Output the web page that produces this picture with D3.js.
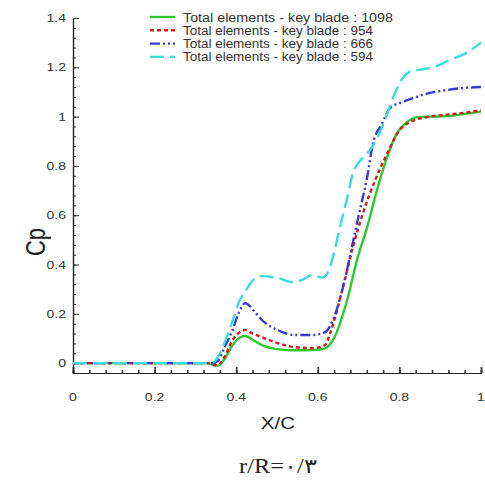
<!DOCTYPE html>
<html>
<head>
<meta charset="utf-8">
<script src="https://cdn.jsdelivr.net/npm/d3@7"></script>
<style>
  html, body { margin: 0; padding: 0; background: #fff; }
  svg { display: block; }
  text { font-family: Arial, "Liberation Sans", sans-serif; }
</style>
</head>
<body>
<svg id="chart" width="485" height="484"></svg>
<script>
// Pressure coefficient along the chord for four mesh densities
const xTicks = [0, 0.2, 0.4, 0.6, 0.8, 1];
const xTickLabels = ["0", "0.2", "0.4", "0.6", "0.8", "1"];
const yTicks = [0, 0.2, 0.4, 0.6, 0.8, 1, 1.2, 1.4];
const yTickLabels = ["0", "0.2", "0.4", "0.6", "0.8", "1", "1.2", "1.4"];

const seriesNames = [
  "Total elements - key blade : 1098",
  "Total elements - key blade : 954",
  "Total elements - key blade : 666",
  "Total elements - key blade : 594"
];

const x1098 = [0, 0.1, 0.2, 0.3, 0.33, 0.345, 0.355, 0.373, 0.39, 0.41, 0.422, 0.44, 0.463, 0.50, 0.544, 0.586, 0.618, 0.637, 0.672, 0.696, 0.721, 0.745, 0.77, 0.794, 0.819, 0.843, 0.875, 0.917, 0.956, 1];
const cp1098 = [0, 0, 0, 0, 0, -0.008, -0.01, 0.02, 0.07, 0.105, 0.11, 0.095, 0.073, 0.057, 0.052, 0.053, 0.06, 0.093, 0.256, 0.418, 0.552, 0.702, 0.836, 0.933, 0.978, 0.998, 1.0, 1.002, 1.01, 1.02];

const x954 = [0, 0.1, 0.2, 0.3, 0.33, 0.345, 0.355, 0.373, 0.39, 0.404, 0.422, 0.44, 0.463, 0.502, 0.544, 0.586, 0.618, 0.63, 0.662, 0.686, 0.711, 0.74, 0.77, 0.801, 0.826, 0.875, 0.917, 0.956, 1];
const cp954 = [0, 0, 0, 0, 0, -0.008, -0.008, 0.03, 0.09, 0.12, 0.134, 0.12, 0.105, 0.081, 0.065, 0.061, 0.073, 0.12, 0.31, 0.47, 0.61, 0.74, 0.85, 0.946, 0.978, 1.0, 1.008, 1.015, 1.025];

const x666 = [0, 0.1, 0.2, 0.3, 0.33, 0.345, 0.355, 0.373, 0.39, 0.409, 0.422, 0.446, 0.463, 0.502, 0.544, 0.586, 0.618, 0.637, 0.662, 0.686, 0.703, 0.721, 0.735, 0.757, 0.777, 0.801, 0.833, 0.875, 0.917, 0.956, 1];
const cp666 = [0, 0, 0, 0, 0, 0, 0.01, 0.07, 0.13, 0.215, 0.243, 0.207, 0.175, 0.134, 0.114, 0.114, 0.126, 0.174, 0.31, 0.49, 0.62, 0.755, 0.89, 0.97, 1.035, 1.055, 1.075, 1.096, 1.108, 1.116, 1.12];

const x594 = [0, 0.1, 0.2, 0.3, 0.33, 0.345, 0.355, 0.373, 0.39, 0.409, 0.422, 0.441, 0.463, 0.502, 0.537, 0.561, 0.586, 0.61, 0.622, 0.637, 0.654, 0.672, 0.686, 0.703, 0.721, 0.745, 0.77, 0.79, 0.81, 0.83, 0.85, 0.882, 0.924, 0.966, 1];
const cp594 = [0, 0, 0, 0, 0, 0.005, 0.025, 0.09, 0.166, 0.256, 0.29, 0.337, 0.353, 0.345, 0.329, 0.337, 0.357, 0.347, 0.36, 0.43, 0.55, 0.67, 0.77, 0.82, 0.85, 0.91, 1.01, 1.10, 1.16, 1.185, 1.19, 1.2, 1.23, 1.26, 1.30];

const seriesX = [x1098, x954, x666, x594];
const seriesY = [cp1098, cp954, cp666, cp594];
const colors = ["#2ec82e", "#c8201e", "#3a3ad0", "#3cdcdc"];
const dashes = [null, "4,3", "10,3,2,3,2,3", "14,6"];

const svg = d3.select("#chart");
const plotLeft = 73, plotRight = 481, plotTop = 18, plotBottom = 373;
const stretch = 1.22; // labels are drawn a little wide

const x = d3.scaleLinear().domain([0, 1]).range([plotLeft, plotRight]);
const y = d3.scaleLinear().domain([-0.04, 1.4]).range([plotBottom, plotTop]);

// Axes: major ticks labelled, minor ticks every 0.04, all pointing inward
const xMinor = d3.range(0, 1.0001, 0.04).map(v => +v.toFixed(2));
const yMinor = d3.range(-0.04, 1.4001, 0.04).map(v => +v.toFixed(2));

const gx = svg.append("g").attr("transform", `translate(0,${plotBottom})`);
gx.call(d3.axisTop(x).tickValues(xMinor).tickSize(3).tickFormat(""));
gx.append("g").call(d3.axisTop(x).tickValues(xTicks).tickSize(6).tickFormat(""));
gx.selectAll("path.domain").attr("stroke", "#222").attr("stroke-width", 1.2);
gx.selectAll("line").attr("stroke", "#333").attr("stroke-width", 1);
gx.selectAll("g > g > line").attr("stroke-width", 1.6);
gx.selectAll(".xlab").data(xTicks).enter().append("text")
  .attr("transform", d => `translate(${x(d)},28) scale(${stretch},1)`)
  .attr("text-anchor", "middle")
  .attr("font-size", 11.5).attr("fill", "#333")
  .text((d, i) => xTickLabels[i]);

const gy = svg.append("g").attr("transform", `translate(${plotLeft},0)`);
gy.call(d3.axisRight(y).tickValues(yMinor).tickSize(3).tickFormat(""));
gy.append("g").call(d3.axisRight(y).tickValues(yTicks).tickSize(6).tickFormat(""));
gy.selectAll("path.domain").attr("stroke", "#222").attr("stroke-width", 1.2);
gy.selectAll("line").attr("stroke", "#333").attr("stroke-width", 1);
gy.selectAll(".ylab").data(yTicks).enter().append("text")
  .attr("transform", d => `translate(-7,${y(d) + 4}) scale(${stretch},1)`)
  .attr("text-anchor", "end")
  .attr("font-size", 11.5).attr("fill", "#333")
  .text((d, i) => yTickLabels[i]);

// Curves
const line = d3.line()
  .x(d => x(d[0])).y(d => y(d[1]))
  .curve(d3.curveMonotoneX);

seriesX.forEach((xs, i) => {
  const pts = xs.map((v, j) => [v, seriesY[i][j]]);
  svg.append("path")
    .datum(pts)
    .attr("d", line)
    .attr("fill", "none")
    .attr("stroke", colors[i])
    .attr("stroke-width", 2.4)
    .attr("stroke-dasharray", dashes[i]);
});

// Legend
const legend = svg.append("g");
const legendWidths = [210, 190, 190, 190];
seriesNames.forEach((name, i) => {
  const ly = 17 + i * 13.3;
  legend.append("line")
    .attr("x1", 150).attr("x2", 175).attr("y1", ly).attr("y2", ly)
    .attr("stroke", colors[i]).attr("stroke-width", 2.4)
    .attr("stroke-dasharray", dashes[i]);
  legend.append("text")
    .attr("x", 183).attr("y", ly + 4.5)
    .attr("font-size", 12.5).attr("fill", "#333")
    .attr("textLength", legendWidths[i])
    .attr("lengthAdjust", "spacingAndGlyphs")
    .text(name);
});

// Axis titles
svg.append("text")
  .attr("transform", `translate(45,242) rotate(-90) scale(1,${stretch})`)
  .attr("text-anchor", "middle").attr("font-size", 22).attr("fill", "#222")
  .text("Cp");

svg.append("text")
  .attr("transform", `translate(278,429) scale(${stretch},1)`)
  .attr("text-anchor", "middle").attr("font-size", 17).attr("fill", "#222")
  .text("X/C");

svg.append("text")
  .attr("transform", `translate(278,473) scale(${stretch},1)`)
  .attr("text-anchor", "middle").attr("font-size", 20).attr("fill", "#222")
  .style("font-family", "'Liberation Serif', 'DejaVu Serif', serif")
  .text("r/R=٠/٣");
</script>
</body>
</html>
